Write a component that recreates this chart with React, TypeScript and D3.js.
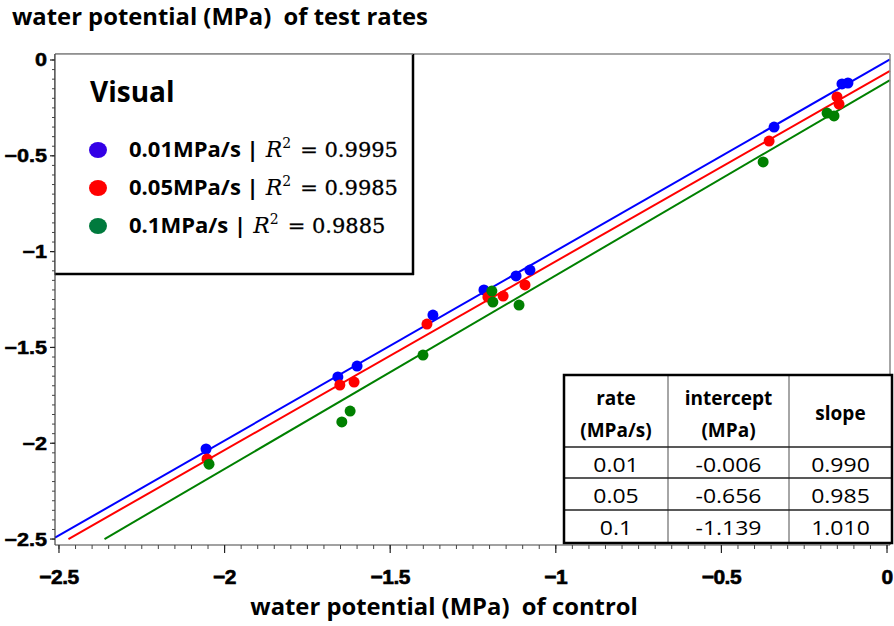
import React from 'react';
import * as d3 from 'd3';

const W = 894;
const H = 626;

const seriesNames = ['0.01MPa/s', '0.05MPa/s', '0.1MPa/s'];
const r2Values = ['0.9995', '0.9985', '0.9885'];
const pointColors = ['#0000ff', '#ff0000', '#008000'];
const legendColors = ['#3300e6', '#ff0000', '#007a3d'];

const controlBlue = [-2.056, -1.658, -1.600, -1.371, -1.217, -1.120, -1.078, -0.341, -0.136, -0.118];
const testBlue = [-2.030, -1.654, -1.597, -1.331, -1.200, -1.127, -1.096, -0.350, -0.125, -0.120];
const controlRed = [-2.053, -1.652, -1.609, -1.389, -1.205, -1.159, -1.093, -0.356, -0.151, -0.145];
const testRed = [-2.082, -1.696, -1.681, -1.378, -1.237, -1.232, -1.174, -0.423, -0.193, -0.230];
const controlGreen = [-2.047, -1.646, -1.621, -1.401, -1.193, -1.190, -1.111, -0.374, -0.181, -0.160];
const testGreen = [-2.109, -1.889, -1.832, -1.540, -1.206, -1.263, -1.279, -0.532, -0.277, -0.292];

const fitSlopes = [0.99, 0.985, 1.01];
const fitIntercepts = [-0.006, -0.0656, -0.1139];

const tableHeaders = [['rate', '(MPa/s)'], ['intercept', '(MPa)'], ['slope']];
const tableRates = ['0.01', '0.05', '0.1'];
const tableIntercepts = ['-0.006', '-0.656', '-1.139'];
const tableSlopes = ['0.990', '0.985', '1.010'];

const majorTicks = [-2.5, -2, -1.5, -1, -0.5, 0];

const PL = 55, PR = 890, PT = 54, PB = 545;

const fmt = (v: number) => (v === 0 ? '0' : String(v).replace('-', '\u2212'));

export default function App() {
  const x = d3.scaleLinear().domain([-2.512, 0.009]).range([PL, PR]);
  const y = d3.scaleLinear().domain([0.0313, -2.531]).range([PT, PB]);
  const [xMin, xMax] = x.domain();
  const minorTicks = d3.range(0, 51).map((i) => -2.5 + i * 0.05);

  const series = [
    { xs: controlBlue, ys: testBlue },
    { xs: controlRed, ys: testRed },
    { xs: controlGreen, ys: testGreen },
  ];

  const line = d3.line<[number, number]>().x((d) => x(d[0])).y((d) => y(d[1]));
  const fitLines = fitSlopes.map((m, i) => {
    const b = fitIntercepts[i];
    const xs = Math.max(xMin, (-2.5 - b) / m);
    return line([
      [xs, m * xs + b],
      [xMax, m * xMax + b],
    ]);
  });

  const sans = "'Open Sans', sans-serif";
  const tickFont = "'Liberation Sans', Arial, sans-serif";
  const serif = "'DejaVu Serif', serif";

  const colX = [564, 668, 789, 892];
  const rowY = [375, 447, 478, 510, 543];
  const cols = [tableRates, tableIntercepts, tableSlopes];

  return (
    <svg width={W} height={H} style={{ position: 'absolute', left: 0, top: 0, background: '#fff' }}>
      <rect x={0} y={0} width={W} height={H} fill="#fff" />
      <text x={12} y={25} fontFamily={sans} fontWeight={700} fontSize={23.8} fill="#000" style={{ whiteSpace: 'pre' }}>
        {'water potential (MPa)  of test rates'}
      </text>

      {fitLines.map((d, i) => (
        <path key={i} d={d || ''} stroke={pointColors[i]} strokeWidth={2} fill="none" />
      ))}
      {series.map((s, i) =>
        s.xs.map((v, j) => (
          <circle key={`${i}-${j}`} cx={x(v)} cy={y(s.ys[j])} r={5.5} fill={pointColors[i]} />
        ))
      )}

      <line x1={PL} x2={PR} y1={PT} y2={PT} stroke="#888" strokeWidth={1.5} />
      <line x1={PR} x2={PR} y1={PT} y2={PB} stroke="#888" strokeWidth={1.5} />
      <line x1={PL} x2={PL} y1={PT} y2={PB} stroke="#444" strokeWidth={1.2} />
      <line x1={PL} x2={PR} y1={PB} y2={PB} stroke="#444" strokeWidth={1.2} />

      {minorTicks.map((t, i) => (
        <line key={'ym' + i} x1={PL - 3} x2={PL} y1={y(t)} y2={y(t)} stroke="#444" strokeWidth={1} />
      ))}
      {majorTicks.map((t) => (
        <g key={'yM' + t}>
          <line x1={PL - 5} x2={PL} y1={y(t)} y2={y(t)} stroke="#222" strokeWidth={1.2} />
          <text
            transform={`translate(47,${y(t) + 6.5}) scale(1.2,1)`}
            textAnchor="end"
            fontFamily={tickFont}
            fontWeight={700}
            fontSize={18}
            stroke="#000"
            strokeWidth={0.5}
            fill="#000"
          >
            {fmt(t)}
          </text>
        </g>
      ))}
      {minorTicks.map((t, i) => (
        <line key={'xm' + i} x1={x(t)} x2={x(t)} y1={PB} y2={PB + 4} stroke="#444" strokeWidth={1} />
      ))}
      {majorTicks.map((t) => (
        <g key={'xM' + t}>
          <line x1={x(t)} x2={x(t)} y1={PB} y2={PB + 8} stroke="#222" strokeWidth={1.2} />
          <text
            x={x(t)}
            y={584}
            textAnchor="middle"
            fontFamily={tickFont}
            fontWeight={700}
            fontSize={21}
            letterSpacing={-0.5}
            stroke="#000"
            strokeWidth={0.6}
            fill="#000"
          >
            {fmt(t)}
          </text>
        </g>
      ))}
      <text x={444} y={615} textAnchor="middle" fontFamily={sans} fontWeight={700} fontSize={23.8} fill="#000" style={{ whiteSpace: 'pre' }}>
        {'water potential (MPa)  of control'}
      </text>

      <rect x={PL} y={PT} width={358} height={220} fill="#fff" />
      <line x1={413} x2={413} y1={PT} y2={275} stroke="#000" strokeWidth={2.5} />
      <line x1={PL} x2={414} y1={274} y2={274} stroke="#000" strokeWidth={2.5} />
      <line x1={PL} x2={413} y1={PT} y2={PT} stroke="#888" strokeWidth={1.5} />
      <line x1={PL} x2={PL} y1={PT} y2={275} stroke="#444" strokeWidth={1.2} />
      <text x={90} y={102} fontFamily={sans} fontWeight={700} fontSize={28} fill="#000">
        Visual
      </text>
      {seriesNames.map((n, i) => {
        const by = 157 + i * 38;
        return (
          <g key={n}>
            <ellipse cx={98} cy={by - 7} rx={9} ry={8} fill={legendColors[i]} />
            <text x={129} y={by} fill="#000">
              <tspan fontFamily={sans} fontWeight={700} fontSize={22}>
                {n + ' |'}
              </tspan>
              <tspan dx={7} fontFamily={serif} fontStyle="italic" fontSize={22}>
                R
              </tspan>
              <tspan dy={-9} fontFamily={serif} fontSize={14}>
                2
              </tspan>
              <tspan dy={9} dx={9} fontFamily={serif} fontSize={21} stroke="#000" strokeWidth={0.3}>
                {'= ' + r2Values[i]}
              </tspan>
            </text>
          </g>
        );
      })}

      <rect x={colX[0]} y={rowY[0]} width={colX[3] - colX[0]} height={rowY[4] - rowY[0]} fill="#fff" />
      {[1, 2].map((c) => (
        <line key={'tc' + c} x1={colX[c]} x2={colX[c]} y1={rowY[0]} y2={rowY[4]} stroke="#888" strokeWidth={1.5} />
      ))}
      {[1, 2, 3].map((r) => (
        <line key={'tr' + r} x1={colX[0]} x2={colX[3]} y1={rowY[r]} y2={rowY[r]} stroke="#222" strokeWidth={1.5} />
      ))}
      <rect
        x={colX[0]}
        y={rowY[0]}
        width={colX[3] - colX[0]}
        height={rowY[4] - rowY[0]}
        fill="none"
        stroke="#000"
        strokeWidth={2.5}
      />
      {tableHeaders.map((h, c) => {
        const cx = (colX[c] + colX[c + 1]) / 2;
        return h.length === 2 ? (
          <g key={'th' + c}>
            <text x={cx} y={405} textAnchor="middle" fontFamily={sans} fontWeight={700} fontSize={19} fill="#000">
              {h[0]}
            </text>
            <text x={cx} y={437} textAnchor="middle" fontFamily={sans} fontWeight={700} fontSize={19} fill="#000">
              {h[1]}
            </text>
          </g>
        ) : (
          <text key={'th' + c} x={cx} y={420} textAnchor="middle" fontFamily={sans} fontWeight={700} fontSize={19} fill="#000">
            {h[0]}
          </text>
        );
      })}
      {cols.map((col, c) =>
        col.map((v, r) => {
          const cx = (colX[c] + colX[c + 1]) / 2;
          const by = [472, 503, 535][r];
          return (
            <text
              key={`td${c}-${r}`}
              transform={`translate(${cx},${by}) scale(1.15,1)`}
              textAnchor="middle"
              fontFamily={sans}
              fontSize={20}
              fill="#000"
            >
              {v}
            </text>
          );
        })
      )}
    </svg>
  );
}
